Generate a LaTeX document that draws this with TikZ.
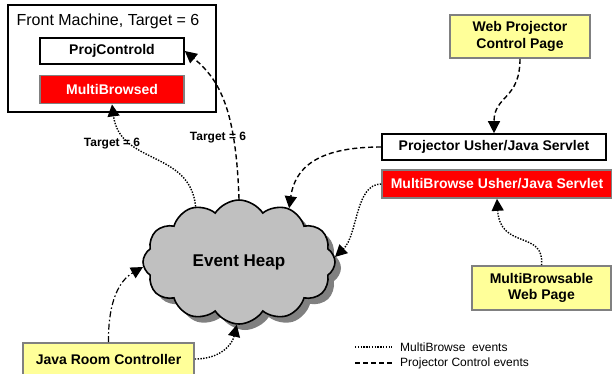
\documentclass[tikz,border=0pt]{standalone}
\usepackage{fontspec}
\setmainfont{Liberation Sans}
\usetikzlibrary{arrows.meta,shapes.symbols,shadows,positioning}

\definecolor{notepad}{HTML}{FFFF99}
\definecolor{alertred}{HTML}{FF0000}
\definecolor{frame}{HTML}{808080}
\definecolor{heapgray}{HTML}{C0C0C0}

\begin{document}
\begin{tikzpicture}[x=1pt, y=-1pt,
  plainbox/.style={draw, line width=1.6pt, fill=white, inner sep=0pt,
    font=\fontsize{14}{16}\selectfont\bfseries},
  redbox/.style={draw=frame, line width=1.6pt, fill=alertred, text=white, inner sep=0pt,
    font=\fontsize{14}{16}\selectfont\bfseries},
  notebox/.style={draw=frame, line width=1.6pt, fill=notepad, inner sep=0pt, align=center,
    font=\fontsize{14}{16.5}\selectfont\bfseries},
  tip/.style={-{Triangle[length=12pt,width=12pt]}},
  mbline/.style={tip, line width=1.4pt, dash pattern=on 1.4pt off 1.4pt},
  pcline/.style={tip, line width=1.4pt, dash pattern=on 5pt off 3pt},
  roomline/.style={tip, line width=1.2pt, dash pattern=on 6pt off 2.5pt on 1.5pt off 2.5pt},
  tgtlabel/.style={font=\fontsize{12}{14}\selectfont\bfseries, inner sep=0pt}]

\useasboundingbox (0,0) rectangle (612,373);

% front machine
\node[draw, line width=2pt, minimum width=208pt, minimum height=107pt, inner sep=0pt] (front) at (112,58.5) {};
\node[font=\fontsize{16}{18}\selectfont, inner sep=0pt] (fronttitle) at (108,21) {Front Machine, Target = 6};
\node[plainbox, minimum width=144pt, minimum height=26pt] (pcd) at (112,51) {ProjControld};
\node[redbox, minimum width=144pt, minimum height=28pt, below=10pt of pcd] (mbd) {MultiBrowsed};

% servlets and pages
\node[notebox, minimum width=140pt, minimum height=43pt] (wpc) at (520,36.5) {Web Projector\\Control Page};
\node[plainbox, minimum width=224pt, minimum height=26pt] (pu) at (494,147) {Projector Usher/Java Servlet};
\node[redbox, minimum width=230pt, minimum height=28pt] (mbu) at (497,184) {MultiBrowse Usher/Java Servlet};
\node[notebox, minimum width=139pt, minimum height=44pt] (mbl) at (541.5,288) {MultiBrowsable\\Web Page};
\node[notebox, minimum width=171pt, minimum height=32pt] (jrc) at (108.5,359) {Java Room Controller};

% the heap
\node[cloud, cloud puffs=12, cloud puff arc=115, aspect=1.55, draw, line width=1.6pt,
  fill=heapgray, minimum width=192pt, minimum height=124pt, inner sep=0pt,
  drop shadow={shadow xshift=6pt, shadow yshift=-6pt, fill=frame, opacity=1},
  font=\fontsize{17}{19}\selectfont\bfseries] (heap) at (239,262) {Event Heap};

% events
\draw[pcline] (wpc.south) .. controls (520,100) and (494,95) .. (pu.north);
\draw[pcline] (pu.west) .. controls (330,147) and (296,160) .. (heap.47);
\draw[mbline] (mbu.west) .. controls (355,184) and (358,235) .. (heap.3);
\draw[mbline] (mbl.north) .. controls (545,230) and (500,250) .. (mbu.south);
\draw[mbline] (heap.128) .. controls (190,150) and (120,165) .. (mbd.south);
\draw[pcline] (heap.90) .. controls (236,110) and (220,80) .. (pcd.east);
\draw[roomline] (jrc.north) .. controls (108,300) and (120,280) .. (heap.183);
\draw[mbline] (jrc.east) .. controls (220,359) and (232,345) .. (heap.268);

\node[tgtlabel] (tgtmb) at (112,144) {Target = 6};
\node[tgtlabel] (tgtpc) at (218,138) {Target = 6};

% legend
\coordinate (mbs) at (355,347);
\coordinate (mbe) at (392,347);
\coordinate (pcs) at (355,363);
\coordinate (pce) at (392,363);
\draw[line width=1.4pt, dash pattern=on 1.4pt off 1.4pt] (mbs) -- (mbe);
\draw[line width=1.4pt, dash pattern=on 5pt off 3pt] (pcs) -- (pce);
\node[anchor=west, font=\fontsize{12}{14}\selectfont, inner sep=0pt] (mbkey) at (400,347) {MultiBrowse\ \ events};
\node[anchor=west, font=\fontsize{12}{14}\selectfont, inner sep=0pt] (pckey) at (400,363) {Projector Control events};

\end{tikzpicture}
\end{document}
